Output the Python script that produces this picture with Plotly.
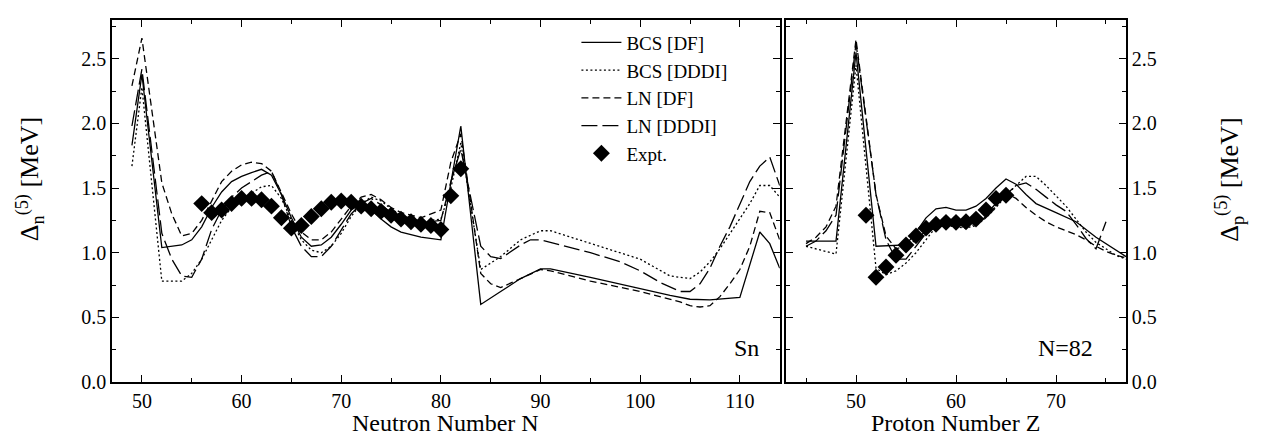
import plotly.graph_objects as go

# ---------------- Left panel: Sn isotopes (neutron number N) ----------------
N_bcs_df = [49, 50, 52, 54, 55, 56, 57, 58, 59, 60, 61, 62, 63, 64, 65, 66, 67, 68, 69, 70, 71, 72, 73, 74, 75, 76, 78, 80, 82,
            84, 86, 88, 90, 91, 95, 100, 103, 105, 107, 110, 112, 113, 114]
D_bcs_df = [1.83, 2.38, 1.04, 1.06, 1.10, 1.20, 1.35, 1.47, 1.55, 1.59, 1.62, 1.645, 1.60, 1.45, 1.27, 1.12, 1.05, 1.06, 1.12,
            1.22, 1.33, 1.38, 1.33, 1.26, 1.20, 1.16, 1.12, 1.10, 1.98,
            0.60, 0.70, 0.80, 0.875, 0.875, 0.81, 0.72, 0.67, 0.64, 0.635, 0.655, 1.16, 1.07, 0.88]

N_bcs_dddi = [49, 50, 52, 54, 55, 56, 57, 58, 59, 60, 61, 62, 63, 64, 65, 66, 67, 68, 69, 70, 71, 72, 73, 74, 75, 76, 78, 80,
              81, 82, 84, 86, 88, 90, 91, 95, 100, 103, 105, 106, 107, 108, 109, 110, 111, 112, 113, 114]
D_bcs_dddi = [1.67, 2.28, 0.78, 0.78, 0.84, 0.95, 1.10, 1.25, 1.35, 1.42, 1.46, 1.51, 1.52, 1.42, 1.25, 1.10, 1.02, 1.00,
              1.05, 1.15, 1.28, 1.38, 1.43, 1.40, 1.34, 1.29, 1.24, 1.26, 1.50, 1.85, 0.87, 0.97, 1.10, 1.17, 1.17, 1.07,
              0.95, 0.82, 0.80, 0.85, 0.93, 1.03, 1.15, 1.27, 1.38, 1.52, 1.52, 1.43]

N_ln_df = [49, 50, 52, 53, 54, 55, 56, 57, 58, 59, 60, 61, 62, 63, 64, 65, 66, 67, 68, 69, 70, 71, 72, 73, 74, 75, 76, 78, 80,
           81, 82, 84, 85, 86, 88, 90, 91, 95, 100, 104, 105, 106, 107, 108, 109, 110, 111, 112, 113, 114]
D_ln_df = [2.29, 2.66, 1.54, 1.30, 1.13, 1.15, 1.25, 1.40, 1.55, 1.63, 1.68, 1.70, 1.69, 1.63, 1.47, 1.30, 1.16, 1.10, 1.10,
           1.16, 1.26, 1.36, 1.43, 1.45, 1.41, 1.35, 1.31, 1.27, 1.33, 1.70, 1.92, 0.84, 0.76, 0.73, 0.80, 0.87, 0.86, 0.78,
           0.70, 0.62, 0.59, 0.58, 0.59, 0.66, 0.76, 0.87, 1.05, 1.32, 1.31, 1.10]

N_ln_dddi = [49, 50, 52, 53, 54, 55, 56, 57, 58, 59, 60, 61, 62, 63, 64, 65, 66, 67, 68, 69, 70, 71, 72, 73, 74, 75, 76, 78,
             80, 81, 82, 84, 85, 86, 88, 89, 90, 95, 98, 100, 102, 104, 105, 106, 107, 108, 109, 110, 111, 112, 113, 114]
D_ln_dddi = [1.98, 2.42, 1.15, 0.95, 0.82, 0.81, 0.95, 1.18, 1.33, 1.43, 1.50, 1.55, 1.60, 1.63, 1.45, 1.20, 1.05, 0.97, 0.97,
             1.05, 1.17, 1.30, 1.38, 1.42, 1.37, 1.31, 1.27, 1.23, 1.25, 1.55, 1.80, 1.05, 0.97, 0.955, 1.06, 1.10, 1.10,
             1.00, 0.93, 0.86, 0.77, 0.70, 0.70, 0.76, 0.88, 1.05, 1.20, 1.38, 1.55, 1.67, 1.74, 1.52]

N_expt = [56, 57, 58, 59, 60, 61, 62, 63, 64, 65, 66, 67, 68, 69, 70, 71, 72, 73, 74, 75, 76, 77, 78, 79, 80, 81, 82]
D_expt_n = [1.38, 1.31, 1.33, 1.38, 1.42, 1.42, 1.41, 1.36, 1.27, 1.19, 1.21, 1.28, 1.34, 1.39, 1.40, 1.39, 1.36, 1.34,
            1.32, 1.29, 1.26, 1.24, 1.22, 1.21, 1.18, 1.44, 1.65]

# ---------------- Right panel: N=82 isotones (proton number Z) ----------------
Z_bcs_df = [45, 48, 50, 52, 55, 56, 57, 58, 59, 60, 61, 62, 63, 64, 65, 66, 67, 68, 70, 72, 74, 76, 77]
P_bcs_df = [1.09, 1.09, 2.55, 1.05, 1.06, 1.16, 1.27, 1.34, 1.35, 1.33, 1.33, 1.36, 1.42, 1.50, 1.57, 1.53, 1.45, 1.38,
            1.31, 1.24, 1.12, 1.02, 0.97]

Z_bcs_dddi = [45, 48, 50, 52, 53, 54, 55, 56, 57, 58, 59, 60, 61, 62, 63, 64, 65, 66, 67, 68, 69, 70, 71, 72, 73, 74, 75,
              76, 77]
P_bcs_dddi = [1.05, 0.99, 2.45, 0.88, 0.83, 0.86, 0.92, 1.00, 1.10, 1.20, 1.21, 1.20, 1.19, 1.21, 1.27, 1.35, 1.44, 1.52,
              1.59, 1.59, 1.52, 1.44, 1.36, 1.26, 1.16, 1.08, 1.03, 0.98, 0.95]

Z_ln_df = [45, 46, 47, 48, 50, 52, 53, 54, 55, 56, 57, 58, 59, 60, 61, 62, 63, 64, 65, 66, 67, 68, 69, 70, 71, 72, 73, 74,
           75, 76, 77]
P_ln_df = [1.07, 1.12, 1.20, 1.36, 2.65, 1.45, 1.13, 1.03, 1.05, 1.10, 1.17, 1.22, 1.22, 1.20, 1.20, 1.22, 1.28, 1.36,
           1.46, 1.42, 1.35, 1.29, 1.24, 1.20, 1.17, 1.14, 1.10, 1.05, 1.01, 0.98, 0.96]

Z_ln_dddi = [45, 46, 47, 48, 50, 52, 53, 54, 55, 56, 57, 58, 59, 60, 61, 62, 63, 64, 65, 66, 67, 68, 69, 70, 71, 72, 73,
             74, 75]
P_ln_dddi = [1.05, 1.09, 1.17, 1.29, 2.62, 1.45, 1.10, 0.95, 0.95, 1.05, 1.15, 1.20, 1.21, 1.21, 1.21, 1.24, 1.30, 1.38,
             1.45, 1.52, 1.54, 1.49, 1.43, 1.37, 1.32, 1.22, 1.11, 1.03, 1.24]

Z_expt = [51, 52, 53, 54, 55, 56, 57, 58, 59, 60, 61, 62, 63, 64, 65]
P_expt = [1.29, 0.81, 0.89, 0.98, 1.06, 1.13, 1.19, 1.22, 1.235, 1.235, 1.24, 1.26, 1.33, 1.42, 1.445]

legend_names = ["BCS [DF]", "BCS [DDDI]", "LN [DF]", "LN [DDDI]", "Expt."]

FONT = "Liberation Serif"
LW = 1.3
styles = [dict(dash="solid"), dict(dash="2px,2.5px"), dict(dash="7px,4px"), dict(dash="16px,5px")]

fig = go.Figure()

left_sets = [(N_bcs_df, D_bcs_df), (N_bcs_dddi, D_bcs_dddi), (N_ln_df, D_ln_df), (N_ln_dddi, D_ln_dddi)]
right_sets = [(Z_bcs_df, P_bcs_df), (Z_bcs_dddi, P_bcs_dddi), (Z_ln_df, P_ln_df), (Z_ln_dddi, P_ln_dddi)]

for i, (x, y) in enumerate(left_sets):
    fig.add_trace(go.Scatter(x=x, y=y, mode="lines", name=legend_names[i],
                             line=dict(color="black", width=LW, dash=styles[i]["dash"]),
                             xaxis="x", yaxis="y"))
fig.add_trace(go.Scatter(x=N_expt, y=D_expt_n, mode="markers", name=legend_names[4],
                         marker=dict(symbol="diamond", size=13, color="black"),
                         xaxis="x", yaxis="y"))
for i, (x, y) in enumerate(right_sets):
    fig.add_trace(go.Scatter(x=x, y=y, mode="lines", showlegend=False,
                             line=dict(color="black", width=LW, dash=styles[i]["dash"]),
                             xaxis="x2", yaxis="y2"))
fig.add_trace(go.Scatter(x=Z_expt, y=P_expt, mode="markers", showlegend=False,
                         marker=dict(symbol="diamond", size=13, color="black"),
                         xaxis="x2", yaxis="y2"))

axis_common = dict(showline=True, linecolor="black", linewidth=1.5, mirror="ticks",
                   ticks="inside", ticklen=7, tickwidth=1.2, tickcolor="black",
                   showgrid=False, zeroline=False,
                   tickfont=dict(family=FONT, size=20, color="black"))

fig.update_layout(
    width=1266, height=436,
    margin=dict(l=104, r=148, t=10, b=62),
    paper_bgcolor="white", plot_bgcolor="white",
    font=dict(family=FONT, color="black"),
    xaxis=dict(domain=[0, 0.6585], range=[47, 114], dtick=10, tick0=0,
               minor=dict(dtick=5, tick0=0, ticklen=4, ticks="inside", tickcolor="black"),
               anchor="y", **axis_common),
    yaxis=dict(domain=[0, 1], range=[0, 2.8], dtick=0.5, tick0=0, tickformat=".1f",
               minor=dict(dtick=0.25, tick0=0, ticklen=4, ticks="inside", tickcolor="black"),
               anchor="x", **axis_common),
    xaxis2=dict(domain=[0.6647, 1], range=[43, 77], dtick=10, tick0=0,
                minor=dict(dtick=5, tick0=0, ticklen=4, ticks="inside", tickcolor="black"),
                anchor="y2", **axis_common),
    yaxis2=dict(domain=[0, 1], range=[0, 2.8], dtick=0.5, tick0=0, tickformat=".1f", side="right",
                minor=dict(dtick=0.25, tick0=0, ticklen=4, ticks="inside", tickcolor="black"),
                anchor="x2", **axis_common),
    legend=dict(x=0.458, y=0.99, xanchor="left", yanchor="top", bgcolor="rgba(0,0,0,0)",
                font=dict(family=FONT, size=19, color="black"), itemwidth=40, tracegroupgap=0),
    showlegend=True,
)

annotations = [
    dict(text="Neutron Number N", x=0.329, y=-0.113, xref="paper", yref="paper", showarrow=False,
         xanchor="center", yanchor="middle", font=dict(family=FONT, size=24)),
    dict(text="Proton Number Z", x=0.8323, y=-0.113, xref="paper", yref="paper", showarrow=False,
         xanchor="center", yanchor="middle", font=dict(family=FONT, size=24)),
    dict(text="Δ<sub>n</sub><sup>(5)</sup> [MeV]", x=-0.081, y=0.56, xref="paper", yref="paper",
         showarrow=False, textangle=-90, xanchor="center", yanchor="middle", font=dict(family=FONT, size=26)),
    dict(text="Δ<sub>p</sub><sup>(5)</sup> [MeV]", x=1.102, y=0.56, xref="paper", yref="paper",
         showarrow=False, textangle=-90, xanchor="center", yanchor="middle", font=dict(family=FONT, size=26)),
    dict(text="Sn", x=0.626, y=0.094, xref="paper", yref="paper", showarrow=False,
         xanchor="center", yanchor="middle", font=dict(family=FONT, size=24)),
    dict(text="N=82", x=0.94, y=0.094, xref="paper", yref="paper", showarrow=False,
         xanchor="center", yanchor="middle", font=dict(family=FONT, size=24)),
]
fig.update_layout(annotations=annotations)

fig.write_html("out.html")
